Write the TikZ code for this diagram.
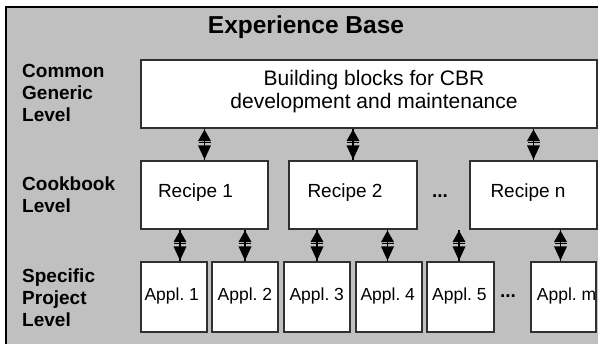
\documentclass[tikz,border=0pt]{standalone}
\usepackage{fontspec}
\setmainfont{Liberation Sans}
\usetikzlibrary{calc}
\definecolor{bggray}{HTML}{C0C0C0}
\definecolor{edgegray}{HTML}{303030}
\tikzset{
  whitebox/.style={draw=edgegray, line width=1.1pt, fill=white, inner sep=0pt},
  levellabel/.style={anchor=west, align=left, font=\fontsize{19}{22}\selectfont\bfseries, inner sep=0pt},
  boxtext/.style={font=\fontsize{19}{22}\selectfont, inner sep=0pt},
  appltext/.style={anchor=west, font=\fontsize{17.5}{20}\selectfont, inner sep=0pt},
  dotstext/.style={font=\fontsize{19}{22}\selectfont\bfseries, inner sep=0pt},
  shaft/.style={line width=1.2pt, black},
  tipfill/.style={fill=black},
  crossbar/.style={line width=0.8pt, black},
}
\newcommand{\dblarrow}[2]{%
  \draw[shaft] (#1) -- (#2);
  \fill[tipfill] ($(#1)+(0,1)$) -- ++(-6.5,11.5) -- ++(13,0) -- cycle;
  \fill[tipfill] ($(#2)+(0,-1)$) -- ++(-6.5,-14) -- ++(13,0) -- cycle;
  \draw[crossbar] ($(#1)!0.44!(#2)+(-6,0)$) -- ++(12,0);
}
\begin{document}
\frenchspacing
\begin{tikzpicture}[x=1pt, y=-1pt]
\useasboundingbox (0,0) rectangle (598,344);
\clip (0,0) rectangle (598,344);
\draw[fill=bggray, line width=1.5pt] (6,7) rectangle (604,350);
\node[font=\fontsize{24.5}{28}\selectfont\bfseries] (title) at (306,27) {Experience Base};
% level labels
\node[levellabel] (lcg) at (22,93) {Common\\Generic\\Level};
\node[levellabel] (lcb) at (22,195) {Cookbook\\Level};
\node[levellabel] (lsp) at (22,297.5) {Specific\\Project\\Level};
% top box
\node[whitebox, minimum width=456pt, minimum height=68pt] (bb) at (369,94) {};
\node[align=center, font=\fontsize{21}{23}\selectfont, inner sep=0pt] (bbt) at (374,91.5) {Building blocks for CBR\\development and maintenance};
% recipes
\node[whitebox, minimum width=127pt, minimum height=68pt] (r1) at (204.5,195) {};
\node[whitebox, minimum width=128pt, minimum height=68pt] (r2) at (353,195) {};
\node[whitebox, minimum width=127pt, minimum height=68pt] (rn) at (533.5,195) {};
\node[boxtext] (r1t) at (195.5,193) {Recipe 1};
\node[boxtext] (r2t) at (345,193) {Recipe 2};
\node[boxtext] (rnt) at (528,193) {Recipe n};
\node[dotstext] (rdots) at (440,196) {...};
% applications
\node[whitebox, minimum width=66pt, minimum height=70pt] (a1) at (174,297) {};
\node[whitebox, minimum width=66pt, minimum height=70pt] (a2) at (245,297) {};
\node[whitebox, minimum width=66pt, minimum height=70pt] (a3) at (317,297) {};
\node[whitebox, minimum width=66pt, minimum height=70pt] (a4) at (389,297) {};
\node[whitebox, minimum width=67pt, minimum height=70pt] (a5) at (460.5,297) {};
\node[whitebox, minimum width=65pt, minimum height=70pt] (am) at (563.5,297) {};
\node[appltext] (a1t) at (144.3,296) {Appl. 1};
\node[appltext] (a2t) at (217.5,296) {Appl. 2};
\node[appltext] (a3t) at (289.3,296) {Appl. 3};
\node[appltext] (a4t) at (360.3,296) {Appl. 4};
\node[appltext] (a5t) at (432,296) {Appl. 5};
\node[appltext] (amt) at (536.7,296) {Appl. m};
\node[dotstext] (adots) at (508,296) {...};
% connector end points
\coordinate (l1) at (r1.north); \coordinate (u1) at (r1.north |- bb.south);
\coordinate (l2) at (r2.north); \coordinate (u2) at (r2.north |- bb.south);
\coordinate (l3) at (rn.north); \coordinate (u3) at (rn.north |- bb.south);
\coordinate (l4) at ([xshift=6pt]a1.north); \coordinate (u4) at (l4 |- r1.south);
\coordinate (l5) at (a2.north); \coordinate (u5) at (l5 |- r1.south);
\coordinate (l6) at (a3.north); \coordinate (u6) at (l6 |- r2.south);
\coordinate (l7) at ([xshift=-1.5pt]a4.north); \coordinate (u7) at (l7 |- r2.south);
\coordinate (l8) at ([xshift=-1.5pt]a5.north); \coordinate (u8) at (l8 |- r2.south);
\coordinate (l9) at ([xshift=-3pt]am.north); \coordinate (u9) at (l9 |- rn.south);
\foreach \i in {1,...,9}{\dblarrow{u\i}{l\i}}
\end{tikzpicture}
\end{document}
